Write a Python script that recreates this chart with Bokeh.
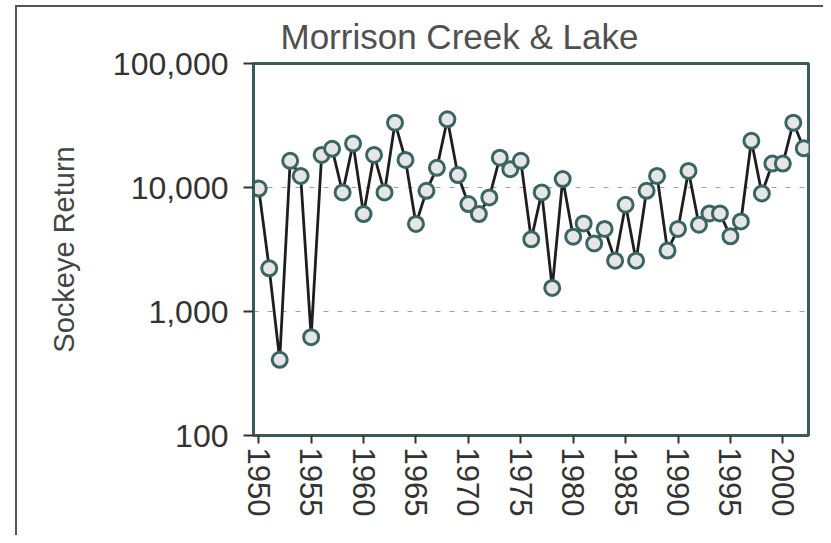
from bokeh.plotting import figure
from bokeh.models import Range1d, FixedTicker
from bokeh.embed import file_html
from bokeh.resources import INLINE

years = list(range(1950, 2003))
returns = [9800, 2230, 408, 16400, 12400, 621, 18300, 20500, 9120, 22600,
           6110, 18300, 9120, 33300, 16700, 5080, 9400, 14400, 35500, 12600,
           7350, 6110, 8310, 17400, 14060, 16400, 3820, 9120, 1550, 11700,
           4010, 5130, 3540, 4630, 2570, 7260, 2570, 9400, 12400, 3100,
           4630, 13600, 5010, 6180, 6180, 4040, 5320, 23800, 8950, 15600,
           15600, 33300, 20700]
x_ticks = list(range(1950, 2001, 5))
y_ticks = [100, 1000, 10000, 100000]
y_labels = {100: "100", 1000: "1,000", 10000: "10,000", 100000: "100,000"}
title_text = "Morrison Creek & Lake"
y_title = "Sockeye Return"

FONT = "Liberation Sans"
FRAME = "#3b5a5a"

p = figure(width=823, height=535, output_backend="svg", toolbar_location=None,
           y_axis_type="log", x_range=Range1d(1949.5, 2002.45),
           y_range=Range1d(100, 100000), title=title_text,
           min_border_left=253, min_border_right=15, min_border_top=63,
           min_border_bottom=100)
p.border_fill_color = None
p.background_fill_color = "white"
p.styles = {
    "background": "linear-gradient(#555555,#555555) 15px 5px / 2px 100% no-repeat, "
                  "linear-gradient(#555555,#555555) 15px 5px / 100% 2px no-repeat, white"
}

p.title.text_font = FONT
p.title.text_font_size = "35px"
p.title.text_font_style = "normal"
p.title.text_color = "#505050"
p.title.align = "left"
p.title.offset = 27
p.title.standoff = 15

p.outline_line_color = FRAME
p.outline_line_width = 3
p.outline_line_alpha = 1.0

p.xgrid.visible = False
p.ygrid.ticker = FixedTicker(ticks=[1000, 10000])
p.ygrid.grid_line_color = "#a0a0a0"
p.ygrid.grid_line_dash = "5 9"
p.ygrid.grid_line_width = 1

for ax in (p.xaxis[0], p.yaxis[0]):
    ax.axis_line_color = FRAME
    ax.axis_line_width = 3
    ax.major_tick_line_color = "#333333"
    ax.major_tick_line_width = 2
    ax.minor_tick_line_color = None
    ax.major_label_text_font = FONT
    ax.major_label_text_color = "#333333"

p.xaxis.ticker = FixedTicker(ticks=x_ticks)
p.xaxis.major_label_orientation = "vertical"
p.xaxis.major_label_text_font_size = "31px"
p.xaxis.major_tick_out = 8
p.xaxis.major_tick_in = 0
p.xaxis.major_label_standoff = 4

p.yaxis.ticker = FixedTicker(ticks=y_ticks)
p.yaxis.major_label_overrides = y_labels
p.yaxis.major_label_text_font_size = "32px"
p.yaxis.major_tick_out = 10
p.yaxis.major_tick_in = 0
p.yaxis.major_label_standoff = 15
p.yaxis.axis_label = y_title
p.yaxis.axis_label_text_font = FONT
p.yaxis.axis_label_text_font_size = "29px"
p.yaxis.axis_label_text_font_style = "normal"
p.yaxis.axis_label_text_color = "#444444"
p.yaxis.axis_label_standoff = 30

p.line(years, returns, line_color="#1e1e1e", line_width=2.8)
p.scatter(years, returns, size=15, fill_color="#e6e6e6",
          line_color="#3b6464", line_width=3)

open("out.html", "w").write(file_html(p, INLINE))
